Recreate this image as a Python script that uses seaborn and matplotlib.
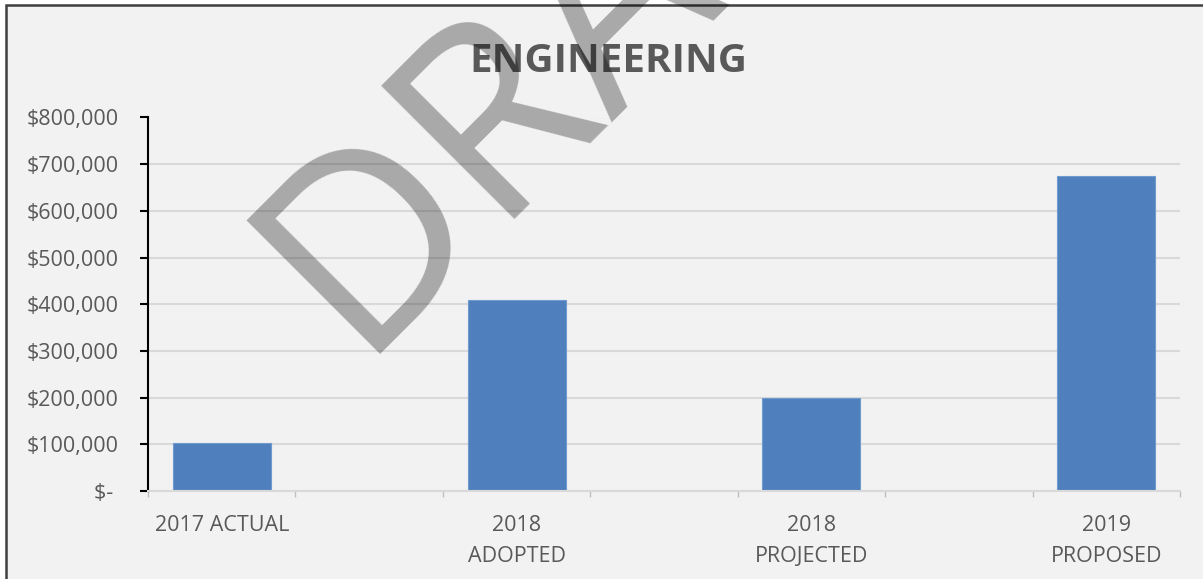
import matplotlib
matplotlib.use("Agg")
import matplotlib.pyplot as plt
import matplotlib.patches as mpatches
import seaborn as sns
import pandas as pd

# values
categories = ["2017 ACTUAL", "2018\nADOPTED", "2018\nPROJECTED", "2019\nPROPOSED"]
amounts = [103000, 410000, 200000, 675000]
# empty columns the spreadsheet kept between the bars
spacers = [" ", "  ", "   "]
y_ticks = [0, 100000, 200000, 300000, 400000, 500000, 600000, 700000, 800000]

order = [categories[0], spacers[0], categories[1], spacers[1],
         categories[2], spacers[2], categories[3]]
df = pd.DataFrame({"category": categories, "amount": amounts})

sns.set_theme(style="white")
plt.rcParams["font.family"] = ["Open Sans", "DejaVu Sans"]

W, H = 1203, 579
fig = plt.figure(figsize=(W / 100, H / 100), dpi=100, facecolor="white")

# grey chart area with dark frame (cropped on the right and bottom)
frame = mpatches.Rectangle((6 / W, -0.1), 1.2, 1 - 5 / H + 0.1,
                           transform=fig.transFigure, facecolor="#F2F2F2",
                           edgecolor="#3F3F3F", linewidth=1.8, zorder=-1)
fig.add_artist(frame)

ax = fig.add_axes([148 / W, 1 - 491 / H, (1180 - 148) / W, (491 - 117.5) / H])
ax.set_facecolor("none")

sns.barplot(data=df, x="category", y="amount", order=order, color="#4F80BD",
            saturation=1, width=0.665, edgecolor="#6F9BCF", linewidth=0.8, ax=ax)

ax.set_xlim(-0.5, 6.5)
ax.set_ylim(0, 800000)
ax.set_xlabel("")
ax.set_ylabel("")

ax.set_yticks(y_ticks)
ax.set_yticklabels(["$- " if v == 0 else f"${v:,.0f}" for v in y_ticks])
ax.yaxis.grid(True, color="#D9D9D9", linewidth=1.5)
ax.set_axisbelow(True)

for side in ["top", "right"]:
    ax.spines[side].set_visible(False)
ax.spines["left"].set_color("black")
ax.spines["left"].set_linewidth(1.5)
ax.spines["bottom"].set_color("#D9D9D9")
ax.spines["bottom"].set_linewidth(1.5)

ax.tick_params(axis="y", left=True, length=6, width=1.5, color="black",
               pad=15, labelsize=15.5, labelcolor="#595959")
ax.tick_params(axis="x", which="major", bottom=False, length=0, pad=17,
               labelsize=15.5, labelcolor="#595959")
# category boundary ticks like Excel
ax.set_xticks([i - 0.5 for i in range(8)], minor=True)
ax.tick_params(axis="x", which="minor", bottom=True, length=4, width=1,
               color="#BFBFBF", direction="out")
for lbl in ax.get_xticklabels():
    lbl.set_linespacing(1.62)

fig.text(608 / W, 1 - 72 / H, "ENGINEERING", ha="center", va="baseline",
         fontsize=29, fontweight="bold", color="#595959")

# watermark
fig.text(0.295, 0.388, "DRAFT", rotation=45, rotation_mode="anchor",
         ha="left", va="baseline", fontsize=190, color="black", alpha=0.3,
         zorder=10)

fig.savefig("out.png", dpi=100, facecolor="white")
